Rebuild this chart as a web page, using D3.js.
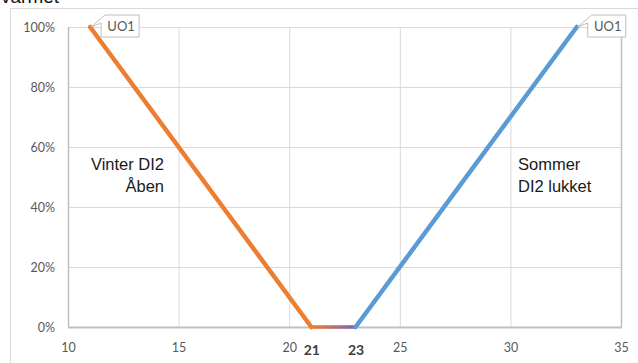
<!DOCTYPE html>
<html>
<head>
<meta charset="utf-8">
<script src="https://cdn.jsdelivr.net/npm/d3@7/dist/d3.min.js"></script>
<style>
  html, body { margin: 0; padding: 0; background: #fff; }
  svg { display: block; }
</style>
</head>
<body>
<svg id="chart" width="638" height="363"></svg>
<script>
// Temperature (°C) on x, opening (%) on y
const xTicks = [10, 15, 20, 25, 30, 35];
const yTicks = [0, 20, 40, 60, 80, 100];
const markTicks = [21, 23];

const vinterX = [11, 21];
const vinterY = [100, 0];
const neutralX = [21, 23];
const neutralY = [0, 0];
const sommerX = [23, 33];
const sommerY = [0, 100];

const pointLabel = "UO1";
const vinterText = ["Vinter DI2", "Åben"];
const sommerText = ["Sommer", "DI2 lukket"];
const titleText = "varmet";

(function () {
const svg = d3.select("#chart");
const plotL = 68, plotR = 621, plotT = 27, plotB = 327;

const x = d3.scaleLinear().domain([10, 35]).range([plotL, plotR]);
const y = d3.scaleLinear().domain([0, 100]).range([plotB, plotT]);

// title (runs off the top edge) and chart frame
svg.append("text").attr("x", 1).attr("y", 3)
  .attr("font-family", "Helvetica, Arial, 'Liberation Sans', sans-serif")
  .attr("font-size", 19).attr("fill", "#111").text(titleText);
svg.append("path")
  .attr("d", `M10.5,${plotB + 60} V8.5 H640`)
  .attr("fill", "none").attr("stroke", "#d9d9d9").attr("stroke-width", 1);

// gridlines
const grid = svg.append("g");
grid.selectAll("line.h").data(yTicks.filter(d => d > 0)).join("line")
  .attr("x1", plotL).attr("x2", plotR)
  .attr("y1", d => y(d) + 0.5).attr("y2", d => y(d) + 0.5)
  .attr("stroke", "#d9d9d9").attr("stroke-width", 1);
grid.selectAll("line.v").data(xTicks).join("line")
  .attr("x1", d => x(d) + 0.5).attr("x2", d => x(d) + 0.5)
  .attr("y1", plotT).attr("y2", plotB)
  .attr("stroke", d => (d === 10 || d === 35) ? "#bfbfbf" : "#d9d9d9")
  .attr("stroke-width", d => (d === 10 || d === 35) ? 1.5 : 1);
// horizontal axis line
svg.append("line").attr("x1", plotL).attr("x2", plotR + 1)
  .attr("y1", plotB + 0.5).attr("y2", plotB + 0.5)
  .attr("stroke", "#bfbfbf").attr("stroke-width", 2);

// axes via d3
const tickFont = "Lato, 'Open Sans', sans-serif";
const yAxis = d3.axisLeft(y).tickValues(yTicks).tickSize(0).tickPadding(13)
  .tickFormat(d => d + "%");
const gy = svg.append("g").attr("transform", `translate(${plotL},0)`).call(yAxis);
gy.select(".domain").remove();
gy.selectAll("text").attr("font-family", tickFont)
  .attr("font-size", 12.5).attr("fill", "#595959");

const xAxis = d3.axisBottom(x).tickValues(xTicks).tickSize(0).tickPadding(16);
const gx = svg.append("g").attr("transform", `translate(0,${plotB})`).call(xAxis);
gx.select(".domain").remove();
gx.selectAll("text").attr("font-family", tickFont)
  .attr("font-size", 12.5).attr("fill", "#595959");

const xMarks = d3.axisBottom(x).tickValues(markTicks).tickSize(0).tickPadding(18);
const gm = svg.append("g").attr("transform", `translate(0,${plotB})`).call(xMarks);
gm.select(".domain").remove();
gm.selectAll("text").attr("font-family", tickFont)
  .attr("font-size", 14).attr("font-weight", "bold").attr("fill", "#404040");

// series lines
const line = d3.line().x(d => x(d[0])).y(d => y(d[1]));
const defs = svg.append("defs");
const grad = defs.append("linearGradient").attr("id", "midGrad")
  .attr("gradientUnits", "userSpaceOnUse")
  .attr("x1", x(neutralX[0])).attr("x2", x(neutralX[1])).attr("y1", 0).attr("y2", 0);
grad.append("stop").attr("offset", "0%").attr("stop-color", "#ED7D31");
grad.append("stop").attr("offset", "100%").attr("stop-color", "#7E62AE");

svg.append("path").datum(d3.zip(neutralX, neutralY))
  .attr("d", line).attr("fill", "none")
  .attr("stroke", "url(#midGrad)").attr("stroke-width", 3.5);
svg.append("path").datum(d3.zip(vinterX, vinterY))
  .attr("d", line).attr("fill", "none")
  .attr("stroke", "#ED7D31").attr("stroke-width", 4.5).attr("stroke-linecap", "round");
svg.append("path").datum(d3.zip(sommerX, sommerY))
  .attr("d", line).attr("fill", "none")
  .attr("stroke", "#5B9BD5").attr("stroke-width", 4.5).attr("stroke-linecap", "round");

// callout labels at the end points
function callout(px, py) {
  const tipX = x(px) + 1, tipY = y(py);
  const L = tipX + 10, T = tipY - 12, R = L + 38, B = tipY + 10;
  const g = svg.append("g");
  g.append("path")
    .attr("d", `M${L + 4},${T} H${R} V${B} H${L} V${T + 8} L${tipX},${tipY} Z`)
    .attr("fill", "#fff").attr("stroke", "#bfbfbf").attr("stroke-width", 1);
  g.append("text").attr("x", (L + R) / 2 + 1).attr("y", (T + B) / 2 + 5)
    .attr("text-anchor", "middle")
    .attr("font-family", tickFont)
    .attr("font-size", 13).attr("fill", "#595959").text(pointLabel);
}
callout(vinterX[0], vinterY[0]);
callout(sommerX[1], sommerY[1]);

// annotations
const annFont = "Helvetica, Arial, 'Liberation Sans', sans-serif";
svg.append("text").attr("text-anchor", "end")
  .attr("font-family", annFont).attr("font-size", 16.5).attr("fill", "#1a1a1a")
  .selectAll("tspan").data(vinterText).join("tspan")
  .attr("x", 164).attr("y", (d, i) => 170 + i * 22).text(d => d);
svg.append("text").attr("text-anchor", "start")
  .attr("font-family", annFont).attr("font-size", 16.5).attr("fill", "#1a1a1a")
  .selectAll("tspan").data(sommerText).join("tspan")
  .attr("x", 518).attr("y", (d, i) => 170 + i * 22).text(d => d);
})();
</script>
</body>
</html>
